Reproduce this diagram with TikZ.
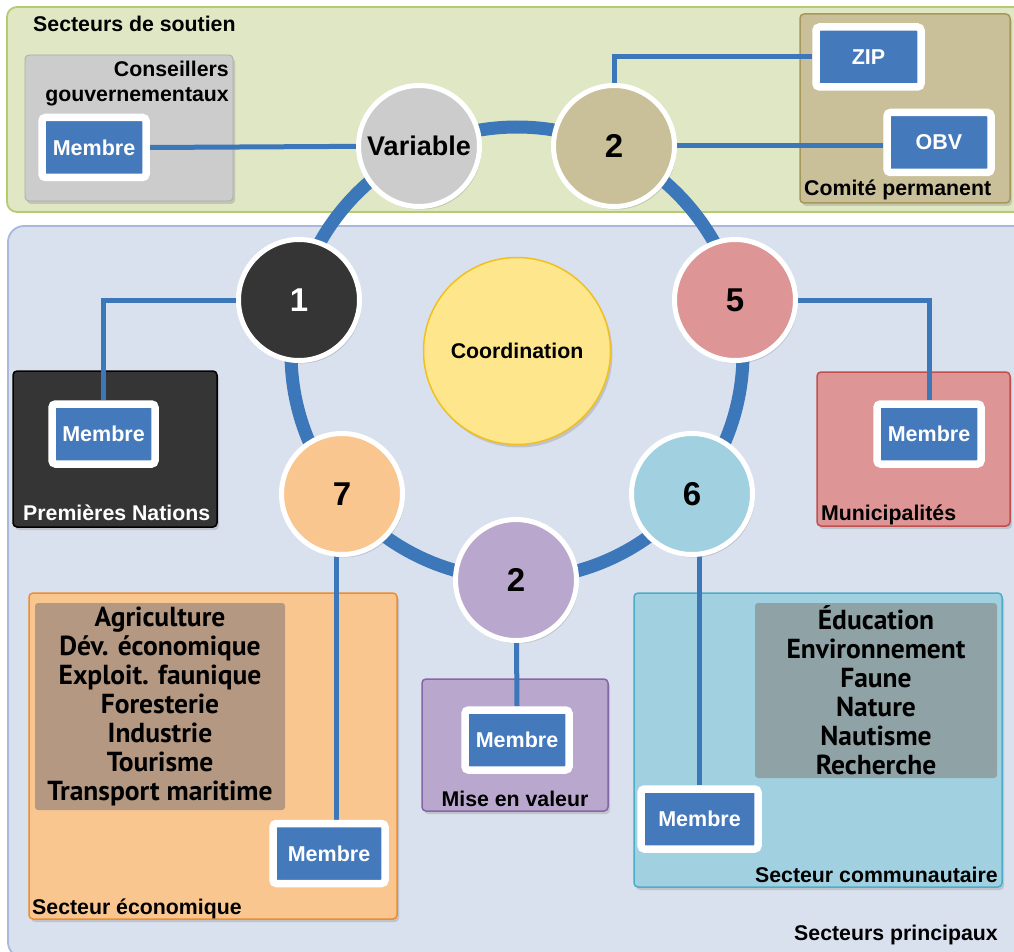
\documentclass[tikz,border=0pt]{standalone}
\usepackage{fontspec}
\setmainfont{Liberation Sans}
\newfontfamily\listfont{PT Sans}
\usetikzlibrary{shadows}
\definecolor{greenfill}{HTML}{E0E7C4}
\definecolor{greenedge}{HTML}{B5CB70}
\definecolor{bluefill}{HTML}{DAE1EE}
\definecolor{blueedge}{HTML}{A9B8DB}
\definecolor{ringblue}{HTML}{3B77B9}
\definecolor{mblue}{HTML}{4479BB}
\definecolor{cgray}{HTML}{CCCCCC}
\definecolor{ctan}{HTML}{C9BF98}
\definecolor{cdark}{HTML}{353535}
\definecolor{cpink}{HTML}{DE9595}
\definecolor{corange}{HTML}{F9C690}
\definecolor{clblue}{HTML}{A1D1E1}
\definecolor{cpurple}{HTML}{B9A7CD}
\definecolor{cyellow}{HTML}{FDE68C}
\definecolor{cyellowedge}{HTML}{F0C020}
\definecolor{econedge}{HTML}{F08C2C}
\definecolor{econlist}{HTML}{A8917F}
\definecolor{communlist}{HTML}{8C9C9E}
\definecolor{miseedge}{HTML}{8666A8}
\definecolor{communedge}{HTML}{4BADC7}
\definecolor{municedge}{HTML}{C0504D}
\definecolor{comiteedge}{HTML}{A6985A}
\definecolor{conseiledge}{HTML}{AAAAAA}
\pgfdeclarelayer{back}
\pgfdeclarelayer{mid}
\pgfsetlayers{back,mid,main}
\begin{document}
\begin{tikzpicture}[x=1pt,y=-1pt,
  lbl/.style={inner sep=0pt, font=\bfseries\fontsize{21.3}{25}\selectfont},
  shad/.style={drop shadow={shadow xshift=2pt,shadow yshift=-3pt,opacity=0.3}},
  region/.style={line width=1.5pt, rounded corners=4pt, shad},
  membre/.style={rectangle, fill=mblue, draw=white, line width=7.5pt, rounded corners=3.5pt,
    minimum width=#1, minimum height=60pt, inner sep=0pt, text=white,
    font=\bfseries\fontsize{21.5}{24}\selectfont, shad},
  membre/.default=104pt,
  circnode/.style={circle, fill=#1, draw=white, line width=5pt, minimum size=121pt,
    inner sep=0pt, font=\bfseries\fontsize{33}{36}\selectfont, shad},
  conn/.style={draw=ringblue, line width=5pt},
  listbox/.style={fill=#1, opacity=0.85, text opacity=1, rounded corners=3pt, align=center,
    inner sep=0pt, font=\listfont\bfseries\fontsize{27.5}{29}\selectfont}
]
\useasboundingbox (0,0) rectangle (1014,952);
\begin{pgfonlayer}{back}
  \fill[white] (0,0) rectangle (1014,952);
  \begin{scope}
    \clip (0,0) rectangle (1014,952);
    \path[draw=greenedge, fill=greenfill, line width=1.8pt, rounded corners=10pt] (7,7) rectangle (1040,212);
    \path[draw=blueedge, fill=bluefill, line width=1.8pt, rounded corners=16pt] (8,226) rectangle (1040,958);
  \end{scope}
  \path[region, fill=cgray, draw=conseiledge, line width=0.8pt] (25,55) rectangle (233,201);
  \path[region, fill=ctan, draw=comiteedge] (800,14) rectangle (1010,203);
  \path[region, fill=cdark, draw=black] (13,371) rectangle (217,527);
  \path[region, fill=cpink, draw=municedge] (817,372) rectangle (1010,526);
  \path[region, fill=corange, draw=econedge] (29,593) rectangle (397,919);
  \path[region, fill=cpurple, draw=miseedge] (422,679) rectangle (608,811);
  \path[region, fill=clblue, draw=communedge] (634,593) rectangle (1002,887);
\end{pgfonlayer}

% region labels
\node[lbl, anchor=base west] (tsoutien) at (33,32) {Secteurs de soutien};
\node[lbl, anchor=north east, align=right] (tconseil) at (229,61) {Conseillers\\gouvernementaux};
\node[lbl, anchor=base west] (tcomite) at (804,196) {Comité permanent};
\node[lbl, anchor=base west, text=white] (tpremieres) at (23,520) {Premières Nations};
\node[lbl, anchor=base west] (tmunic) at (821,520) {Municipalités};
\node[lbl, anchor=base west] (tecon) at (32,914) {Secteur économique};
\node[lbl, anchor=base] (tmise) at (515,806) {Mise en valeur};
\node[lbl, anchor=base east] (tcommun) at (998,882) {Secteur communautaire};
\node[lbl, anchor=base east] (tprincipaux) at (998,940) {Secteurs principaux};

% list boxes
\node[listbox=econlist, minimum width=250pt, minimum height=207pt] (econlist) at (160,706.5)
  {Agriculture\\Dév. économique\\Exploit. faunique\\Foresterie\\Industrie\\Tourisme\\Transport maritime};
\node[listbox=communlist, minimum width=242pt, minimum height=175pt] (communlist) at (876,690.5)
  {Éducation\\Environnement\\Faune\\Nature\\Nautisme\\Recherche};

% coordination
\node[circle, fill=cyellow, draw=cyellowedge, line width=1.5pt, minimum size=187pt, inner sep=0pt,
  font=\bfseries\fontsize{21.3}{24}\selectfont, shad] (coord) at (517,351) {Coordination};

% circle nodes
\node[circnode=cgray, font=\bfseries\fontsize{27}{30}\selectfont] (var) at (419,146) {Variable};
\node[circnode=ctan] (twotop) at (614,146) {2};
\node[circnode=cdark, text=white] (one) at (299,300) {1};
\node[circnode=cpink] (five) at (735,300) {5};
\node[circnode=corange] (seven) at (342,494) {7};
\node[circnode=clblue] (six) at (692,494) {6};
\node[circnode=cpurple] (twobot) at (516,580) {2};

% member boxes
\node[membre] (mcons) at (94,147.5) {Membre};
\node[membre=105pt] (zip) at (868.5,57) {ZIP};
\node[membre=104pt] (obv) at (939,142.5) {OBV};
\node[membre=103pt] (mprem) at (103.5,434) {Membre};
\node[membre=104pt] (mmunic) at (929,434) {Membre};
\node[membre=112pt] (mecon) at (329,853.5) {Membre};
\node[membre=104pt] (mmise) at (517,740) {Membre};
\node[membre=117pt] (mcommun) at (699.5,819) {Membre};

\coordinate (ctr) at (517,353);
\begin{pgfonlayer}{mid}
  \draw[ringblue, line width=13pt] (ctr) circle[radius=226pt];
  \draw[conn] (mcons.east) -- (var.center);
  \draw[conn] (twotop.center) |- (zip.west);
  \draw[conn] (twotop.center) -- (twotop.center -| obv.west);
  \draw[conn] (one.center) -| (mprem.north);
  \draw[conn] (five.center) -| (mmunic.north);
  \draw[conn] ([xshift=-6pt]seven.center) -- ([xshift=-6pt]seven.center |- mecon.north);
  \draw[conn] (twobot.center) -- (mmise.north);
  \draw[conn] (mcommun.north) -- (mcommun.north |- six.center);
\end{pgfonlayer}
\end{tikzpicture}
\end{document}
